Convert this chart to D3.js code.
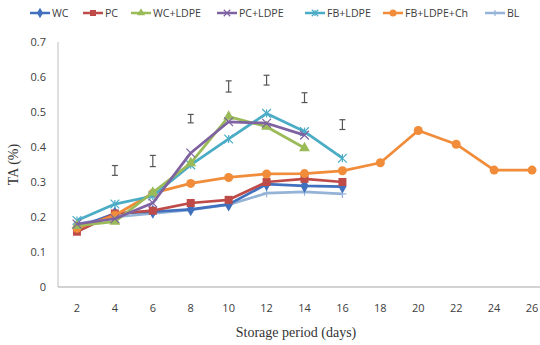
<!DOCTYPE html>
<html>
<head>
<meta charset="utf-8">
<script src="https://cdn.jsdelivr.net/npm/d3@7"></script>
<style>
  body { margin: 0; background: #fff; }
  svg { display: block; }
  .tick-label { font-family: "Open Sans", sans-serif; font-size: 11px; fill: #404040; }
  .legend text { font-family: "Open Sans", sans-serif; font-size: 10.6px; fill: #404040; }
  .title { font-family: "Liberation Serif", "DejaVu Serif", serif; font-size: 14px; fill: #333; }
</style>
</head>
<body>
<div id="chart"></div>
<script>
// Data
var days = [2, 4, 6, 8, 10, 12, 14, 16, 18, 20, 22, 24, 26];
var yTicks = [0, 0.1, 0.2, 0.3, 0.4, 0.5, 0.6, 0.7];

var wc = [0.170, 0.210, 0.215, 0.222, 0.236, 0.294, 0.289, 0.287];
var pc = [0.158, 0.210, 0.218, 0.240, 0.249, 0.300, 0.309, 0.300];
var wcLdpe = [0.175, 0.187, 0.270, 0.354, 0.487, 0.458, 0.397];
var pcLdpe = [0.180, 0.195, 0.240, 0.383, 0.472, 0.468, 0.434];
var fbLdpe = [0.190, 0.237, 0.260, 0.349, 0.423, 0.496, 0.444, 0.368];
var fbLdpeCh = [0.168, 0.205, 0.268, 0.296, 0.313, 0.323, 0.324, 0.332, 0.355, 0.447, 0.408, 0.334, 0.334];
var bl = [0.180, 0.200, 0.210, 0.220, 0.235, 0.268, 0.272, 0.266];

// error bars: day, centre, half-range
var errDays = [4, 6, 8, 10, 12, 14, 16];
var errMid = [0.333, 0.360, 0.481, 0.573, 0.591, 0.541, 0.464];
var errHalf = [0.014, 0.016, 0.012, 0.016, 0.014, 0.014, 0.014];

var series = [
  { name: "WC", values: wc, color: "#4070BE", marker: "diamond" },
  { name: "PC", values: pc, color: "#BE4B48", marker: "square" },
  { name: "WC+LDPE", values: wcLdpe, color: "#9BBB59", marker: "triangle" },
  { name: "PC+LDPE", values: pcLdpe, color: "#7E62A1", marker: "x" },
  { name: "FB+LDPE", values: fbLdpe, color: "#4BACC6", marker: "star" },
  { name: "FB+LDPE+Ch", values: fbLdpeCh, color: "#F08C3A", marker: "circle" },
  { name: "BL", values: bl, color: "#95B3D7", marker: "plus" }
];

var W = 540, H = 345;
var margin = { left: 58, top: 42, bottom: 58 };

var svg = d3.select("#chart").append("svg").attr("width", W).attr("height", H);

// Scales
var x = d3.scaleBand().domain(days).range([margin.left, 551]);
var y = d3.scaleLinear().domain([0, 0.7]).range([H - margin.bottom, margin.top]);
var cx = function (d) { return x(d) + x.bandwidth() / 2; };

// Axes lines
svg.append("line").attr("x1", margin.left).attr("x2", margin.left)
  .attr("y1", y(0.7)).attr("y2", y(0)).attr("stroke", "#bfbfbf");
svg.append("line").attr("x1", margin.left).attr("x2", W)
  .attr("y1", y(0)).attr("y2", y(0)).attr("stroke", "#a6a6a6");

// Tick labels
svg.selectAll(".ytl").data(yTicks).enter().append("text")
  .attr("class", "tick-label").attr("text-anchor", "end")
  .attr("x", 46).attr("y", function (d) { return y(d) + 4; })
  .text(function (d) { return d === 0 ? "0" : d3.format(".1f")(d); });

svg.selectAll(".xtl").data(days).enter().append("text")
  .attr("class", "tick-label").attr("text-anchor", "middle")
  .attr("x", cx).attr("y", y(0) + 25)
  .text(function (d) { return d; });

// Titles
svg.append("text").attr("class", "title").attr("text-anchor", "middle")
  .attr("transform", "translate(18," + y(0.35) + ") rotate(-90)").text("TA (%)");
svg.append("text").attr("class", "title").attr("text-anchor", "middle")
  .attr("x", 296).attr("y", 337).text("Storage period (days)");

// Error bars
var eb = svg.selectAll(".err").data(errDays).enter().append("g").attr("class", "err")
  .attr("stroke", "#555").attr("stroke-width", 1.2);
eb.append("line").attr("x1", cx).attr("x2", cx)
  .attr("y1", function (d, i) { return y(errMid[i] + errHalf[i]); })
  .attr("y2", function (d, i) { return y(errMid[i] - errHalf[i]); });
[1, -1].forEach(function (s) {
  eb.append("line")
    .attr("x1", function (d) { return cx(d) - 3; }).attr("x2", function (d) { return cx(d) + 3; })
    .attr("y1", function (d, i) { return y(errMid[i] + s * errHalf[i]); })
    .attr("y2", function (d, i) { return y(errMid[i] + s * errHalf[i]); });
});

// Marker drawing
var drawMarker = function (g, type, color, size) {
  var s = size;
  switch (type) {
    case "diamond":
      g.append("path").attr("d", d3.symbol(d3.symbolDiamond, s * s * 0.9)()).attr("fill", color);
      break;
    case "square":
      g.append("rect").attr("x", -s / 2).attr("y", -s / 2).attr("width", s).attr("height", s).attr("fill", color);
      break;
    case "triangle":
      g.append("path").attr("d", d3.symbol(d3.symbolTriangle, s * s * 0.8)()).attr("fill", color);
      break;
    case "circle":
      g.append("circle").attr("r", s / 2 + 0.5).attr("fill", color);
      break;
    case "x":
      g.append("path").attr("d", d3.symbol(d3.symbolTimes, s * s * 0.8)()).attr("fill", "none")
        .attr("stroke", color).attr("stroke-width", 1.2);
      break;
    case "star":
      g.append("path").attr("d", d3.symbol(d3.symbolTimes, s * s * 0.8)()).attr("fill", "none")
        .attr("stroke", color).attr("stroke-width", 1.2);
      g.append("line").attr("x1", 0).attr("x2", 0).attr("y1", -s / 2).attr("y2", s / 2)
        .attr("stroke", color).attr("stroke-width", 1.2);
      break;
    case "plus":
      g.append("path").attr("d", "M" + (-s / 2) + ",0H" + (s / 2) + "M0," + (-s / 2) + "V" + (s / 2))
        .attr("stroke", color).attr("stroke-width", 1.2);
      break;
  }
};

// Lines
var line = d3.line().x(function (d, i) { return cx(days[i]); }).y(function (d) { return y(d); });

var drawOrder = ["BL", "WC", "PC", "FB+LDPE+Ch", "FB+LDPE", "WC+LDPE", "PC+LDPE"];
drawOrder.forEach(function (n) {
  var s = series.find(function (e) { return e.name === n; });
  var g = svg.append("g").attr("class", "series");
  g.append("path").attr("d", line(s.values)).attr("fill", "none")
    .attr("stroke", s.color).attr("stroke-width", 2.75).attr("stroke-linejoin", "round");
  s.values.forEach(function (v, i) {
    var m = g.append("g").attr("transform", "translate(" + cx(days[i]) + "," + y(v) + ")");
    drawMarker(m, s.marker, s.color, 8);
  });
});

// Legend
var legendX = [30, 83, 131, 217, 305, 383, 485];
var legend = svg.append("g").attr("class", "legend");
series.forEach(function (s, i) {
  var g = legend.append("g").attr("transform", "translate(" + legendX[i] + ",13)");
  g.append("line").attr("x1", 0).attr("x2", 20).attr("stroke", s.color).attr("stroke-width", 2.5);
  var m = g.append("g").attr("transform", "translate(10,0)");
  drawMarker(m, s.marker, s.color, 6);
  g.append("text").attr("x", 22).attr("y", 4).text(s.name);
});
</script>
</body>
</html>
